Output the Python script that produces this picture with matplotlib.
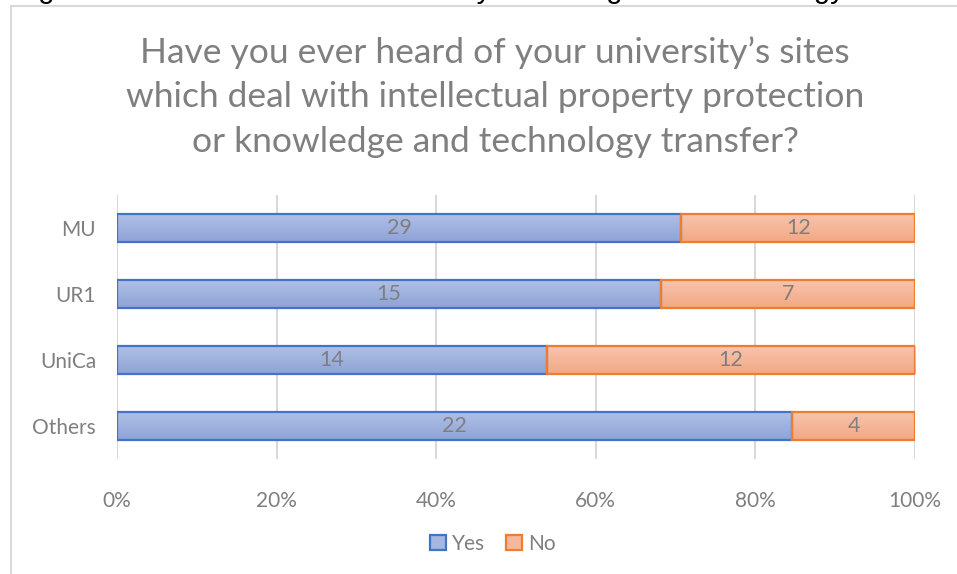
import matplotlib
matplotlib.use("Agg")
import matplotlib.pyplot as plt
import numpy as np
from matplotlib.patches import Rectangle

plt.rcParams['font.family'] = ['Lato', 'DejaVu Sans']

categories = ["MU", "UR1", "UniCa", "Others"]
yes_counts = [29, 15, 14, 22]
no_counts = [12, 7, 12, 4]
series_names = ["Yes", "No"]
xtick_values = [0, 20, 40, 60, 80, 100]
xtick_labels = ["0%", "20%", "40%", "60%", "80%", "100%"]
title = "Have you ever heard of your university\u2019s sites\nwhich deal with intellectual property protection\nor knowledge and technology transfer?"
caption = "Figure 4: Awareness about university knowledge and technology transfer"

yes = np.array(yes_counts, dtype=float)
no = np.array(no_counts, dtype=float)
total = yes + no
yes_pct = yes / total * 100
no_pct = no / total * 100

TXT = "#7f7f7f"
W, H = 957, 574
fig = plt.figure(figsize=(W / 100, H / 100), dpi=100)

# chart frame
fig.patches.append(Rectangle((11 / W, -0.1), 1.2, 1 - 6 / H + 0.1, transform=fig.transFigure,
                             fill=False, edgecolor="#d9d9d9", linewidth=1.5, zorder=0))
# document caption above the chart
fig.text(14 / W, 1 + 2 / H, caption, fontsize=21, color="black", ha="left", va="baseline",
         family=['Liberation Sans', 'DejaVu Sans'])

ax = fig.add_axes([117 / W, 1 - 459 / H, 798 / W, 264 / H])
y = np.arange(len(categories))
bh = 0.41

grad = np.linspace(0, 1, 64).reshape(-1, 1)

def gradient_bars(bars, top_rgb, bot_rgb):
    cmap = matplotlib.colors.LinearSegmentedColormap.from_list("g", [top_rgb, bot_rgb])
    for b in bars:
        x0, y0 = b.get_x(), b.get_y()
        w, h = b.get_width(), b.get_height()
        im = ax.imshow(grad, cmap=cmap, aspect="auto",
                       extent=(x0, x0 + w, y0 + h, y0), zorder=2, interpolation="bilinear")
        im.set_clip_path(b)

b1 = ax.barh(y, yes_pct, height=bh, color="none", edgecolor="#4472c4", linewidth=1.6, zorder=3,
             label=series_names[0])
b2 = ax.barh(y, no_pct, left=yes_pct, height=bh, color="none", edgecolor="#ed7d31", linewidth=1.6,
             zorder=3, label=series_names[1])
gradient_bars(b1, "#afc0e6", "#8ea3d6")
gradient_bars(b2, "#f8c4ad", "#f2a883")

for i in range(len(categories)):
    ax.text(yes_pct[i] / 2, y[i], str(yes_counts[i]), ha="center", va="center",
            fontsize=15.5, color=TXT, zorder=4)
    ax.text(yes_pct[i] + no_pct[i] / 2, y[i], str(no_counts[i]), ha="center", va="center",
            fontsize=15.5, color=TXT, zorder=4)

ax.set_xlim(0, 100)
ax.set_ylim(len(categories) - 0.5, -0.5)
ax.set_xticks(xtick_values)
ax.set_xticklabels(xtick_labels)
ax.set_yticks(y)
ax.set_yticklabels(categories)
ax.tick_params(axis="both", length=0, labelsize=15, labelcolor=TXT)
ax.tick_params(axis="x", pad=23)
ax.tick_params(axis="y", pad=15)
ax.grid(axis="x", color="#d9d9d9", linewidth=1.5, zorder=0)
ax.set_axisbelow(True)
for s in ax.spines.values():
    s.set_visible(False)

fig.text(495 / W, 1 - 97 / H, title, ha="center", va="center", fontsize=25.5,
         color=TXT, linespacing=1.48)

handles = [Rectangle((0, 0), 1, 1, facecolor="#a5b6e0", edgecolor="#4472c4", linewidth=1.6),
           Rectangle((0, 0), 1, 1, facecolor="#f6b89c", edgecolor="#ed7d31", linewidth=1.6)]
fig.legend(handles, series_names, loc="center", bbox_to_anchor=(493 / W, 1 - 544 / H),
           ncol=2, frameon=False, fontsize=15, labelcolor=TXT,
           handlelength=0.75, handleheight=0.75, handletextpad=0.3, columnspacing=1.0)

fig.savefig("out.png", dpi=100)
